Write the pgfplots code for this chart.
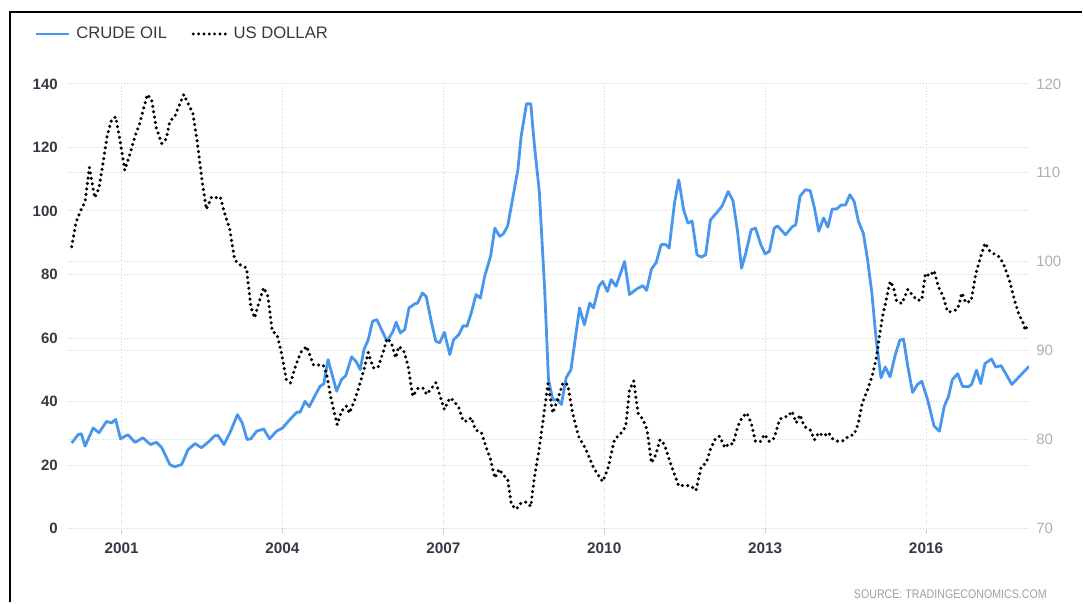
\documentclass[border=0pt]{standalone}
\usepackage{fontspec}
\setmainfont{Liberation Sans}
\usepackage{pgfplots}
\pgfplotsset{compat=1.18}
\definecolor{oilblue}{RGB}{72,150,238}
\definecolor{gridc}{RGB}{212,212,212}
\definecolor{lefttxt}{RGB}{55,55,70}
\definecolor{righttxt}{RGB}{175,175,175}
\definecolor{srctxt}{RGB}{160,160,160}
\begin{document}
\begin{tikzpicture}
\path (0,0) rectangle (812.25pt,452.25pt);
\draw[black,line width=1.6pt] (7.5pt,0pt) -- (7.5pt,443.25pt) -- (812.25pt,443.25pt);
\pgfplotsset{
  common/.style={
    set layers=standard,
    scale only axis, width=721.5pt, height=334pt,
    at={(51pt,55.3pt)}, anchor=south west,
    xmin=2000, xmax=2017.92,
    axis line style={draw=none},
    grid style={dash pattern=on 0.75pt off 1.25pt, color=gridc, line width=0.75pt},
    /pgf/number format/assume math mode=true,
  }
}
% left axis: crude oil
\begin{axis}[common,
  ymin=0, ymax=140,
  ytick={0,20,40,60,80,100,120,140},
  yticklabels={0,20,40,60,80,100,120,140},
  xtick={2001,2004,2007,2010,2013,2016},
  xticklabels={2001,2004,2007,2010,2013,2016},
  xmajorgrids=true, ymajorgrids=true,
  tick align=outside, major tick length=3.75pt,
  xtick style={color=gridc, line width=0.75pt},
  ytick style={draw=none},
  xtick pos=bottom, ytick pos=left,
  yticklabel style={font=\fontsize{11.25pt}{13pt}\selectfont\bfseries, text=lefttxt, anchor=east, inner sep=0pt, xshift=-3.75pt},
  xticklabel style={font=\fontsize{11.5pt}{13pt}\selectfont\bfseries, text=lefttxt, anchor=north, inner sep=0pt, yshift=-6.5pt},
  legend columns=2,
  legend style={draw=none, fill=none, inner sep=0pt, outer sep=0pt,
    at={(axis description cs:0,1)}, anchor=west, xshift=-24.75pt, yshift=37.45pt,
    font=\fontsize{12.5pt}{14pt}\selectfont, text=lefttxt},
  legend image code/.code={\draw[#1] (0pt,0pt) -- (24.75pt,0pt);},
  legend cell align=left,
]
\addplot[oilblue, line width=2.1pt, line join=round] coordinates {
(2000.07,27.0)(2000.19,29.6)(2000.25,29.9)(2000.32,26.0)(2000.47,31.7)(2000.58,30.2)(2000.72,33.8)(2000.81,33.3)(2000.89,34.4)(2000.98,28.3)
(2001.12,29.6)(2001.25,27.2)(2001.40,28.6)(2001.54,26.5)(2001.65,27.2)(2001.75,25.5)(2001.90,20.2)(2001.99,19.5)
(2002.12,20.2)(2002.24,24.9)(2002.37,26.8)(2002.49,25.5)(2002.61,27.2)(2002.74,29.3)(2002.80,29.3)(2002.91,26.5)
(2003.02,30.2)(2003.16,35.9)(2003.25,33.3)(2003.34,28.1)(2003.41,28.3)(2003.52,30.7)(2003.65,31.4)(2003.76,28.3)(2003.89,30.7)
(2004.00,31.7)(2004.14,34.4)(2004.27,36.7)(2004.33,36.7)(2004.42,40.1)(2004.50,38.4)(2004.60,41.7)(2004.70,44.8)(2004.77,45.6)(2004.85,53.2)
(2005.01,43.3)(2005.10,46.9)(2005.18,48.2)(2005.29,54.1)(2005.37,52.7)(2005.45,50.1)(2005.52,56.4)(2005.60,59.5)(2005.68,65.3)(2005.76,65.8)(2005.95,59.0)
(2006.06,62.1)(2006.12,65.0)(2006.20,61.6)(2006.28,62.7)(2006.36,69.5)(2006.47,70.8)(2006.52,71.0)(2006.61,74.2)(2006.68,73.1)(2006.78,64.8)(2006.86,59.0)(2006.93,58.5)
(2007.02,61.8)(2007.12,54.8)(2007.19,59.5)(2007.29,61.1)(2007.37,63.9)(2007.44,63.7)(2007.52,67.9)(2007.61,73.7)(2007.69,72.6)(2007.77,79.4)(2007.88,85.7)(2007.96,94.6)
(2008.05,92.0)(2008.12,92.8)(2008.20,95.3)(2008.30,104.6)(2008.39,113.0)(2008.45,123.4)(2008.55,133.7)(2008.63,133.7)(2008.70,120.3)(2008.79,106.0)(2008.89,75.0)(2008.96,47.0)
(2009.04,40.6)(2009.13,40.6)(2009.20,39.1)(2009.29,47.5)(2009.38,50.1)(2009.54,69.5)(2009.63,64.2)(2009.73,71.0)(2009.80,69.5)(2009.90,76.3)(2009.97,77.8)
(2010.06,74.7)(2010.13,78.4)(2010.22,76.3)(2010.38,84.1)(2010.47,73.7)(2010.60,75.4)(2010.72,76.5)(2010.79,75.0)(2010.88,81.7)(2010.97,83.8)
(2011.06,89.4)(2011.15,89.4)(2011.21,88.3)(2011.31,102.5)(2011.39,109.8)(2011.48,100.4)(2011.56,96.2)(2011.64,96.8)(2011.73,86.2)(2011.81,85.5)(2011.89,86.2)(2011.98,97.2)
(2012.09,99.3)(2012.20,101.6)(2012.31,106.1)(2012.40,103.3)(2012.49,93.0)(2012.56,82.0)(2012.64,86.8)(2012.74,94.1)(2012.82,94.6)(2012.92,89.4)
(2013.00,86.5)(2013.08,87.3)(2013.17,94.6)(2013.23,95.3)(2013.38,92.5)(2013.51,95.1)(2013.57,95.6)(2013.65,104.6)(2013.75,106.7)(2013.84,106.4)(2013.92,100.9)
(2014.00,93.6)(2014.09,97.8)(2014.17,94.9)(2014.25,100.6)(2014.33,100.6)(2014.42,101.9)(2014.50,101.9)(2014.58,105.1)(2014.66,103.0)(2014.74,96.7)(2014.83,93.0)(2014.91,84.7)(2014.99,74.2)
(2015.07,59.5)(2015.16,47.5)(2015.24,50.9)(2015.33,47.8)(2015.42,54.3)(2015.51,59.3)(2015.58,59.7)(2015.66,51.1)(2015.75,42.9)(2015.84,45.4)(2015.92,46.4)
(2016.03,40.6)(2016.15,32.3)(2016.25,30.7)(2016.34,38.5)(2016.42,41.7)(2016.49,46.9)(2016.59,48.8)(2016.68,44.8)(2016.79,44.7)(2016.85,45.4)(2016.94,49.9)
(2017.02,45.7)(2017.10,52.0)(2017.22,53.4)(2017.30,50.9)(2017.40,51.3)(2017.48,49.0)(2017.60,45.4)(2017.92,51.1)
};
\addlegendentry{\rule{2.25pt}{0pt}CRUDE OIL\rule{16.5pt}{0pt}}
\addlegendimage{black, line width=2.4pt, line cap=round, dash pattern=on 0pt off 4pt}
\addlegendentry{\rule{2.25pt}{0pt}US DOLLAR}
\end{axis}
% right axis: us dollar
\begin{axis}[common,
  ymin=70, ymax=120,
  ytick={70,80,90,100,110,120},
  yticklabels={70,80,90,100,110,120},
  hide x axis,
  ymajorgrids=true,
  ytick style={draw=none},
  yticklabel pos=right,
  yticklabel style={font=\fontsize{11.25pt}{13pt}\selectfont, text=righttxt, anchor=west, inner sep=0pt, xshift=5.25pt},
]
\addplot[black, line width=2.6pt, line cap=round, dash pattern=on 0pt off 4.1pt] coordinates {
(2000.07,101.7)(2000.15,104.4)(2000.22,105.5)(2000.32,106.8)(2000.40,110.6)(2000.44,109.2)(2000.50,107.2)(2000.58,108.3)(2000.66,111.3)(2000.73,114.1)(2000.81,115.9)(2000.89,116.3)(2000.97,113.7)
(2001.06,110.3)(2001.16,112.2)(2001.25,114.1)(2001.34,115.6)(2001.48,118.8)(2001.56,118.2)(2001.65,115.0)(2001.75,113.3)(2001.83,113.8)(2001.90,115.8)(2001.99,116.3)
(2002.07,117.5)(2002.16,118.8)(2002.24,117.8)(2002.33,116.7)(2002.41,113.5)(2002.49,109.6)(2002.58,105.9)(2002.68,107.3)(2002.77,107.2)(2002.84,107.3)(2002.92,105.5)
(2003.02,103.6)(2003.11,100.2)(2003.20,99.7)(2003.33,99.3)(2003.41,95.0)(2003.48,93.7)(2003.56,95.4)(2003.65,97.1)(2003.73,96.1)(2003.81,92.2)(2003.90,91.8)(2003.98,89.8)
(2004.07,86.8)(2004.15,86.4)(2004.25,88.4)(2004.34,89.8)(2004.45,90.5)(2004.58,88.4)(2004.66,88.4)(2004.76,88.4)(2004.82,87.5)(2004.91,84.5)
(2005.02,81.7)(2005.10,83.2)(2005.19,83.8)(2005.25,83.0)(2005.35,84.5)(2005.43,86.0)(2005.52,87.9)(2005.60,89.8)(2005.69,88.1)(2005.78,88.1)(2005.88,89.9)(2005.95,91.4)
(2006.03,90.9)(2006.11,89.2)(2006.17,90.5)(2006.26,90.0)(2006.34,88.4)(2006.43,84.9)(2006.53,85.8)(2006.62,85.8)(2006.69,85.1)(2006.78,85.8)(2006.86,86.4)(2006.93,85.1)
(2007.02,83.4)(2007.12,84.7)(2007.19,84.4)(2007.29,83.6)(2007.37,82.1)(2007.46,82.1)(2007.52,82.5)(2007.60,81.1)(2007.71,80.8)(2007.79,79.3)(2007.88,77.8)(2007.96,75.7)
(2008.04,76.7)(2008.11,76.1)(2008.20,75.5)(2008.27,72.7)(2008.36,72.2)(2008.45,72.9)(2008.55,73.0)(2008.63,72.5)(2008.70,75.9)(2008.78,78.7)(2008.86,82.2)(2008.95,86.3)
(2009.04,83.0)(2009.13,84.5)(2009.23,86.4)(2009.32,86.2)(2009.41,83.0)(2009.52,80.4)(2009.66,78.9)(2009.79,77.0)(2009.88,76.1)(2009.97,75.3)
(2010.07,76.8)(2010.19,80.0)(2010.32,80.8)(2010.40,81.5)(2010.47,85.6)(2010.55,86.6)(2010.63,83.0)(2010.72,82.3)(2010.80,81.1)(2010.88,77.4)(2010.96,78.3)
(2011.04,80.0)(2011.12,79.5)(2011.21,77.8)(2011.31,76.1)(2011.39,74.8)(2011.50,74.9)(2011.62,74.8)(2011.71,74.3)(2011.81,77.0)(2011.90,77.4)(2011.98,78.9)
(2012.06,80.0)(2012.15,80.4)(2012.25,79.1)(2012.33,79.6)(2012.40,79.5)(2012.49,81.5)(2012.58,82.6)(2012.66,83.0)(2012.74,81.9)(2012.82,79.8)(2012.91,79.8)(2012.99,80.6)
(2013.08,79.8)(2013.17,80.2)(2013.27,82.3)(2013.36,82.6)(2013.42,82.6)(2013.50,83.2)(2013.58,81.9)(2013.65,82.8)(2013.73,81.5)(2013.84,81.1)(2013.92,80.0)
(2014.00,80.8)(2014.09,80.4)(2014.18,80.8)(2014.26,80.1)(2014.37,79.8)(2014.46,79.9)(2014.56,80.4)(2014.66,80.6)(2014.74,81.9)(2014.81,84.1)(2014.91,85.6)
(2015.01,87.5)(2015.08,89.4)(2015.13,91.6)(2015.19,93.9)(2015.27,96.1)(2015.33,97.8)(2015.39,97.2)(2015.45,95.6)(2015.55,95.3)(2015.66,96.9)(2015.74,96.3)(2015.83,95.7)(2015.92,95.7)(2015.99,98.7)
(2016.07,98.4)(2016.15,99.0)(2016.23,97.2)(2016.32,96.1)(2016.40,94.4)(2016.48,94.4)(2016.59,94.7)(2016.67,96.5)(2016.74,95.4)(2016.84,95.6)(2016.93,98.7)
(2017.02,100.6)(2017.10,102.1)(2017.19,101.2)(2017.29,100.8)(2017.38,100.5)(2017.46,99.5)(2017.56,97.8)(2017.65,95.7)(2017.73,94.1)(2017.80,93.3)(2017.85,92.3)(2017.91,93.1)
};
\end{axis}
\node[anchor=east, inner sep=0pt, text=srctxt, font=\fontsize{9.4pt}{10pt}\selectfont] at (786pt,6pt) {\scalebox{0.85}[1]{SOURCE: TRADINGECONOMICS.COM}};
\end{tikzpicture}
\end{document}
